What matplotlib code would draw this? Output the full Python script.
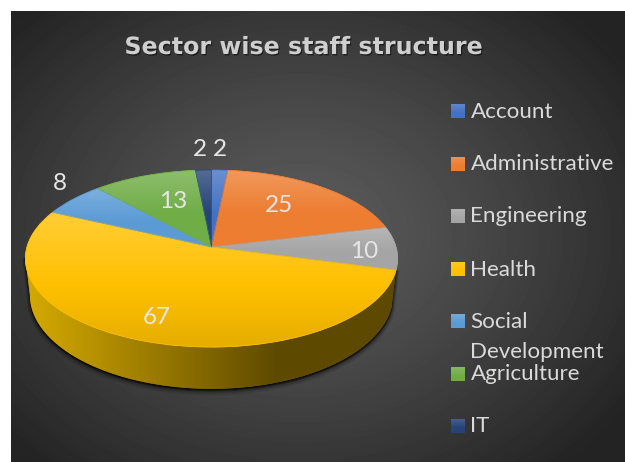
import numpy as np
import matplotlib
matplotlib.use("Agg")
import matplotlib.pyplot as plt
import matplotlib.patheffects as pe
from matplotlib.colors import to_rgb
from matplotlib.patches import Polygon, Rectangle
from matplotlib.transforms import Transform

title = "Sector wise staff structure"
categories = ["Account", "Administrative", "Engineering", "Health",
              "Social\nDevelopment", "Agriculture", "IT"]
values = [2, 25, 10, 67, 8, 13, 2]
colors = ["#4472C4", "#ED7D31", "#A5A5A5", "#FFC000", "#5B9BD5", "#70AD47", "#264478"]
value_label_xy = [(220, 149), (279, 206), (364, 252), (157, 318), (60, 184), (173, 202), (200, 149)]

W, H = 625, 462
CX, CY, RX, RY, PERSP = 211.5, 247.0, 184.5, 87.0, 0.13
FONT = "Lato"


class Perspective(Transform):
    input_dims = output_dims = 2
    is_affine = False
    has_inverse = False

    def transform_non_affine(self, xy):
        xy = np.asarray(xy, float)
        d = 1 + PERSP * xy[:, 1]
        return np.column_stack([CX + RX * xy[:, 0] / d, CY - RY * xy[:, 1] / d])


def lighten(c, f):
    c = np.array(to_rgb(c))
    return c + (1 - c) * f if f >= 0 else c * (1 + f)


def vgrad(ax, clip, box, stops, zorder):
    x0, y0, x1, y1 = box
    t = np.linspace(0, 1, 128)
    arr = np.stack([np.interp(t, [s[0] for s in stops], [s[1][i] for s in stops]) for i in range(3)], axis=1)[:, None, :]
    im = ax.imshow(arr, extent=(x0, x1, y1, y0), aspect="auto", zorder=zorder, interpolation="bilinear")
    im.set_clip_path(clip)
    return im


fig = plt.figure(figsize=(W / 100, H / 100), dpi=100, facecolor="white")
ax = fig.add_axes([0, 0, 1, 1])

wedges, _ = ax.pie(values, colors=colors, startangle=90, counterclock=False, radius=1)
ax.set_aspect("auto")
ax.set_xlim(0, W)
ax.set_ylim(H, 0)
ax.axis("off")
proj = Perspective()

# background radial gradient
yy, xx = np.mgrid[0:H, 0:W]
rr = np.hypot((xx - 300) / 420.0, (yy - 235) / 330.0)
bg = np.clip(0.36 - 0.24 * rr ** 1.25, 0.14, 1)
bgim = ax.imshow(bg, cmap="gray", vmin=0, vmax=1, extent=(0, W, H, 0), aspect="auto", zorder=0)
bgim.set_clip_path(Rectangle((11, 11), W, H, transform=ax.transData))
ax.set_xlim(0, W)
ax.set_ylim(H, 0)


def top_rim(theta):
    xy = np.column_stack([np.sin(theta), np.cos(theta)])
    return proj.transform_non_affine(xy)


def bottom_rim(pts):
    return np.column_stack([CX + 0.976 * (pts[:, 0] - CX), 295 + 1.06 * (pts[:, 1] - 258.5)])


# side wall of the large front wedge
frac = np.cumsum(values) / np.sum(values) * 2 * np.pi
th = np.linspace(frac[2], np.arccos(-PERSP) * -1 + 2 * np.pi, 200)
t_pts = top_rim(th)
b_pts = bottom_rim(t_pts)

for off, a in [(5, .10), (3.5, .16), (2, .25), (1, .35)]:
    shadow = b_pts + np.array([0, off * .6])
    ax.add_patch(Polygon(np.vstack([t_pts, shadow[::-1]]), closed=True,
                         fc="black", ec="black", lw=off, alpha=a, zorder=1))

side = Polygon(np.vstack([t_pts, b_pts[::-1]]), closed=True, fc="#8a6a00", ec="none", zorder=2)
ax.add_patch(side)
xs = np.linspace(0, 1, 256)
stops_x = [0, 0.08, 0.35, 0.68, 1]
stops_c = [to_rgb("#D4A900"), to_rgb("#C9A000"), to_rgb("#9A7A00"), to_rgb("#5E4900"), to_rgb("#5F4A00")]
arr = np.stack([np.interp(xs, stops_x, [c[i] for c in stops_c]) for i in range(3)], axis=1)[None, :, :]
im = ax.imshow(arr, extent=(24, 398, 400, 250), aspect="auto", zorder=2.1)
im.set_clip_path(side)

# pie top
for w, c in zip(wedges, colors):
    w.set_transform(proj + ax.transData)
    w.set_zorder(3)
    w.set_facecolor(c)
    w.set_edgecolor(c)
    w.set_linewidth(0.6)
    w.set_clip_on(False)
    ang = np.radians(np.linspace(w.theta1, w.theta2, 80))
    pts = proj.transform_non_affine(np.vstack([[0, 0], np.column_stack([np.cos(ang), np.sin(ang)])]))
    x0, y0 = pts.min(axis=0)
    x1, y1 = pts.max(axis=0)
    stops = [(0, lighten(c, .22)), (.55, lighten(c, 0)), (1, lighten(c, -.10 if c == "#FFC000" else 0))]
    vgrad(ax, w, (x0 - 2, y0 - 2, x1 + 2, y1 + 2), stops, 3.1)
    ax.add_patch(Polygon(pts, closed=True, fc="none", ec=c, lw=0.5, zorder=3.2, alpha=.8))

ax.set_xlim(0, W)
ax.set_ylim(H, 0)

# value labels
for v, (x, y) in zip(values, value_label_xy):
    ax.text(x, y, str(v), color="#E6E6E6", fontsize=17.5, family=FONT, ha="center", va="center", zorder=5)

# title
ax.text(303.5, 47, title, color="#CFCFCF", fontsize=17.1, family="DejaVu Sans", fontweight="bold",
        ha="center", va="center", zorder=5,
        path_effects=[pe.withSimplePatchShadow(offset=(0.8, -1), shadow_rgbFace="black", alpha=.5)])

# legend
leg_y = [111, 164, 216, 269, 321, 374, 426]
for lab, c, y in zip(categories, colors, leg_y):
    sq = Rectangle((451, y - 7), 14, 14, fc=c, ec="none", zorder=4)
    ax.add_patch(sq)
    vgrad(ax, sq, (451, y - 7, 465, y + 7), [(0, lighten(c, .15)), (.6, lighten(c, 0)), (1, lighten(c, 0))], 4.1)
    parts = lab.split("\n")
    ax.text(470.5, y + 0.5, parts[0], color="#DADADA", fontsize=16.1, family=FONT, ha="left", va="center", zorder=5)
    if len(parts) > 1:
        ax.text(470.5, y + 31, parts[1], color="#DADADA", fontsize=16.1, family=FONT, ha="left", va="center", zorder=5)

ax.set_xlim(0, W)
ax.set_ylim(H, 0)
fig.savefig("out.png", dpi=100, facecolor="white")
